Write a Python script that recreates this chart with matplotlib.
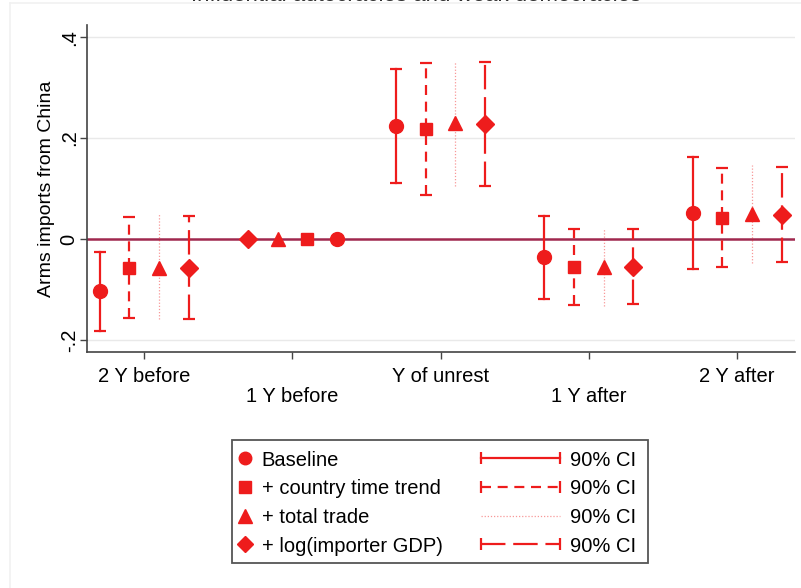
import numpy as np
import matplotlib
matplotlib.use("Agg")
import matplotlib.pyplot as plt
from matplotlib.lines import Line2D
from matplotlib.patches import Rectangle
from matplotlib.legend_handler import HandlerLine2D

plt.rcParams["font.family"] = ["Liberation Sans", "DejaVu Sans"]

# ---------------------------------------------------------------------------
# Data
# ---------------------------------------------------------------------------
periods = ["2 Y before", "1 Y before", "Y of unrest", "1 Y after", "2 Y after"]
models = ["Baseline", "+ country time trend", "+ total trade", "+ log(importer GDP)"]

coef_base  = [-0.104, 0.0, 0.224, -0.036, 0.051]
lo_base    = [-0.182, 0.0, 0.111, -0.119, -0.059]
hi_base    = [-0.025, 0.0, 0.337, 0.046, 0.163]

coef_trend = [-0.058, 0.0, 0.217, -0.056, 0.041]
lo_trend   = [-0.156, 0.0, 0.087, -0.131, -0.056]
hi_trend   = [0.044, 0.0, 0.348, 0.020, 0.140]

coef_trade = [-0.058, 0.0, 0.230, -0.056, 0.049]
lo_trade   = [-0.159, 0.0, 0.104, -0.133, -0.048]
hi_trade   = [0.049, 0.0, 0.351, 0.020, 0.147]

coef_gdp   = [-0.058, 0.0, 0.228, -0.055, 0.048]
lo_gdp     = [-0.159, 0.0, 0.104, -0.129, -0.045]
hi_gdp     = [0.045, 0.0, 0.351, 0.020, 0.143]

REF_PERIOD = 1   # omitted category, all estimates = 0

# ---------------------------------------------------------------------------
# Styles
# ---------------------------------------------------------------------------
RED = "#ee1c1c"
ZERO_COLOR = "#a0284e"
GRID_COLOR = "#e9e9e9"

series = [
    dict(coef=coef_base,  lo=lo_base,  hi=hi_base,  marker="o", ms=10.0,
         ls="-",             lw=1.6, color=RED, alpha=1.0, cap=True),
    dict(coef=coef_trend, lo=lo_trend, hi=hi_trend, marker="s", ms=9.0,
         ls=(0, (4.5, 3.0)), lw=1.6, color=RED, alpha=1.0, cap=True),
    dict(coef=coef_trade, lo=lo_trade, hi=hi_trade, marker="^", ms=10.5,
         ls=(0, (1.0, 1.5)), lw=0.9, color=RED, alpha=0.45, cap=False),
    dict(coef=coef_gdp,   lo=lo_gdp,   hi=hi_gdp,   marker="D", ms=9.0,
         ls=(0, (11, 3.5)),  lw=1.6, color=RED, alpha=1.0, cap=True),
]
offsets = [-0.3, -0.1, 0.1, 0.3]

# ---------------------------------------------------------------------------
# Figure
# ---------------------------------------------------------------------------
fig = plt.figure(figsize=(8.01, 5.88), dpi=100, facecolor="white")
ax = fig.add_axes([0.1086, 0.4014, 0.8839, 0.5561])

x_base = np.arange(1, len(periods) + 1)

for k, s in enumerate(series):
    for j in range(len(periods)):
        # reference period is drawn in reverse order
        off = -offsets[k] if j == REF_PERIOD else offsets[k]
        xp = x_base[j] + off
        if j != REF_PERIOD:
            seg = Line2D([xp, xp], [s["lo"][j], s["hi"][j]], color=s["color"],
                         lw=s["lw"], ls=s["ls"], alpha=s["alpha"], zorder=3)
            ax.add_line(seg)
            if s["cap"]:
                ax.plot([xp, xp], [s["lo"][j], s["hi"][j]], ls="none",
                        marker="_", ms=9, mew=1.6, color=s["color"], zorder=3)
        ax.plot(xp, s["coef"][j], marker=s["marker"], ms=s["ms"], color=RED,
                mec=RED, ls="none", zorder=4)

ax.axhline(0, color=ZERO_COLOR, lw=1.8, zorder=2)

ax.set_xlim(0.615, 5.39)
ax.set_ylim(-0.224, 0.424)

yt = [-0.2, 0, 0.2, 0.4]
ax.set_yticks(yt)
ax.set_yticklabels(["-.2", "0", ".2", ".4"], rotation=90, va="center",
                   fontsize=14.5)
for v in yt:
    if v != 0:
        ax.axhline(v, color=GRID_COLOR, lw=1.0, zorder=1)

# alternate x labels on two rows: odd categories as major ticks, even as minor
ax.set_xticks(x_base[::2])
ax.set_xticklabels(periods[::2], fontsize=14.5)
ax.set_xticks(x_base[1::2], minor=True)
ax.set_xticklabels(periods[1::2], minor=True, fontsize=14.5)
ax.tick_params(axis="x", which="major", length=5, width=1.0, pad=6,
               color="#444444")
ax.tick_params(axis="x", which="minor", length=5, width=1.0, pad=20,
               color="#444444")
ax.tick_params(axis="y", length=5, width=1.0, pad=1, color="#444444")

ax.set_ylabel("Arms imports from China", fontsize=14, labelpad=3)

for side in ["top", "right"]:
    ax.spines[side].set_visible(False)
for side in ["left", "bottom"]:
    ax.spines[side].set_color("#444444")
    ax.spines[side].set_linewidth(1.2)

# cut-off title at the very top (only its lower edge shows in the reference)
fig.text(0.52, 0.9985, "Influential autocracies and weak democracies",
         ha="center", va="baseline", fontsize=16, color="#333333")

# faint outer graph-region outline
fig.add_artist(Line2D([10 / 801, 10 / 801], [0, 1 - 3 / 588],
                      transform=fig.transFigure, color="#f1f1f1", lw=1.2))
fig.add_artist(Line2D([10 / 801, 1], [1 - 3 / 588, 1 - 3 / 588],
                      transform=fig.transFigure, color="#f1f1f1", lw=1.2))

# ---------------------------------------------------------------------------
# Legend: markers on the left, CI line styles on the right
# ---------------------------------------------------------------------------
mk_handles = [Line2D([], [], marker=s["marker"], ms=s["ms"] * 0.9, color=RED,
                     ls="none") for s in series]
ci_handles = []
for s in series:
    h = Line2D([], [], color=s["color"], lw=s["lw"], ls=s["ls"],
               alpha=s["alpha"], marker="|" if s["cap"] else "",
               ms=9, mew=1.6)
    ci_handles.append(h)

leg_y = 1 - 503 / 588
leg_kw = dict(frameon=False, borderpad=0, borderaxespad=0, fontsize=14.5,
              labelspacing=0.48, loc="center left")
leg1 = fig.legend(mk_handles, models, bbox_to_anchor=(235 / 801, leg_y),
                  handlelength=1.0, handletextpad=0.33, **leg_kw)
ci_map = {h: HandlerLine2D(numpoints=2, marker_pad=0) for h in ci_handles}
leg2 = fig.legend(ci_handles, ["90% CI"] * 4, bbox_to_anchor=(481 / 801, leg_y),
                  handlelength=3.93, handletextpad=0.5, handler_map=ci_map,
                  **leg_kw)

fig.add_artist(Rectangle((232 / 801, 1 - 562.5 / 588), 416 / 801, 122.5 / 588,
                         transform=fig.transFigure, fill=False,
                         edgecolor="#555555", lw=1.3))

fig.savefig("out.png", dpi=100, facecolor="white")
